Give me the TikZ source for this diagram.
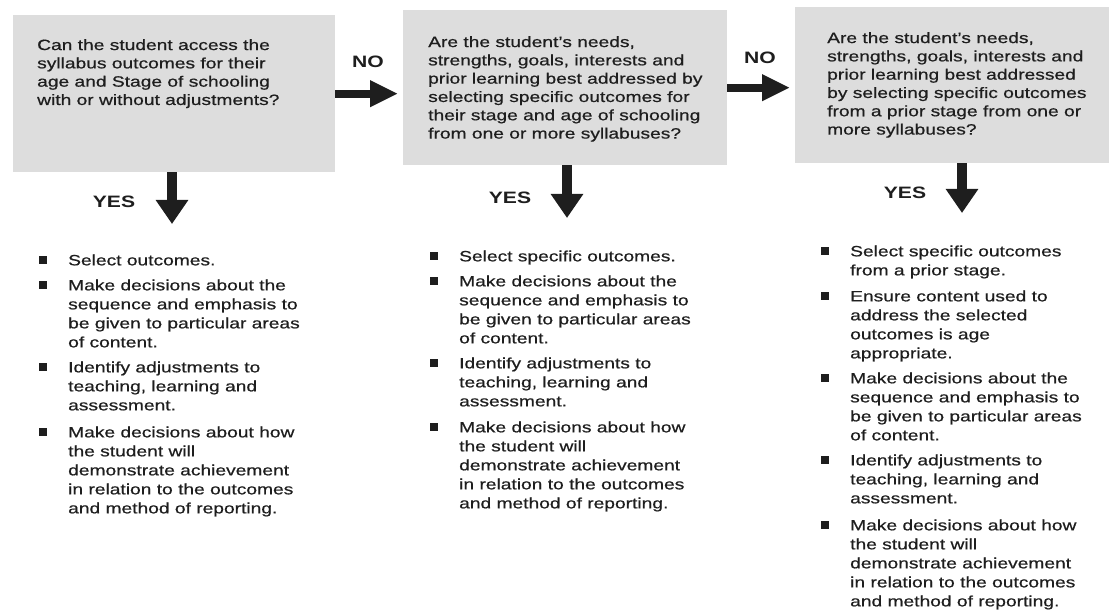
\documentclass[tikz,border=0pt]{standalone}
\usepackage{fontspec}
\setmainfont{Liberation Sans}[FakeStretch=1.28]
\newfontfamily\bodyfont{Liberation Sans}[FakeStretch=1.28,FakeBold=0.6]
\usetikzlibrary{arrows.meta,calc}
\definecolor{boxgray}{RGB}{221,221,221}
\definecolor{ink}{RGB}{30,30,30}
\begin{document}
\begin{tikzpicture}[x=1pt,y=-1pt,
  qbox/.style={fill=boxgray, draw=none, inner sep=0pt, anchor=north west},
  qtext/.style={anchor=north west, inner sep=0pt, align=left, text=ink, font=\bodyfont\fontsize{15}{18.3}\selectfont},
  itemtext/.style={anchor=north west, inner sep=0pt, align=left, text=ink, font=\bodyfont\fontsize{15}{19}\selectfont},
  bul/.style={fill=ink, minimum size=7.5pt, inner sep=0pt},
  lab/.style={text=ink, font=\bfseries\fontsize{16.5}{18}\selectfont, inner sep=0pt},
  harrow/.style={draw=ink, line width=8pt, -{Triangle[width=25pt,length=28pt]}, shorten >=5pt},
  varrow/.style={draw=ink, line width=10pt, -{Triangle[width=31pt,length=24pt]}},
]
\useasboundingbox (0,0) rectangle (1113,612);
% question boxes
\node[qbox, minimum width=322pt, minimum height=157pt] (b1) at (13,15) {};
\node[qbox, minimum width=324pt, minimum height=155pt] (b2) at (403,10) {};
\node[qbox, minimum width=314pt, minimum height=156pt] (b3) at (795,7) {};
\node[qtext] (t1) at (37,39) {Can the student access the\\syllabus outcomes for their\\age and Stage of schooling\\with or without adjustments?};
\node[qtext] (t2) at (428,36) {Are the student’s needs,\\strengths, goals, interests and\\prior learning best addressed by\\selecting specific outcomes for\\their stage and age of schooling\\from one or more syllabuses?};
\node[qtext] (t3) at (827,32) {Are the student’s needs,\\strengths, goals, interests and\\prior learning best addressed\\by selecting specific outcomes\\from a prior stage from one or\\more syllabuses?};
% labels
\node[lab] (no1) at (368,62) {NO};
\node[lab] (no2) at (760,58) {NO};
\node[lab] (yes1) at (114,202) {YES};
\node[lab] (yes2) at (510,198) {YES};
\node[lab] (yes3) at (905,193) {YES};
% arrows
\draw[harrow] (b1.east) -- (b1.east -| b2.west);
\draw[harrow] (b2.east) -- (b2.east -| b3.west);
\coordinate (y1) at (172,224);
\coordinate (y2) at (567,218);
\coordinate (y3) at (962,213);
\draw[varrow] (b1.south -| y1) -- (y1);
\draw[varrow] (b2.south -| y2) -- (y2);
\draw[varrow] (b3.south -| y3) -- (y3);
% column 1
\node[itemtext] (i11) at (68,254.3) {Select outcomes.};
\node[itemtext] (i12) at (68,279.3) {Make decisions about the\\sequence and emphasis to\\be given to particular areas\\of content.};
\node[itemtext] (i13) at (68,361.3) {Identify adjustments to\\teaching, learning and\\assessment.};
\node[itemtext] (i14) at (68,426.3) {Make decisions about how\\the student will\\demonstrate achievement\\in relation to the outcomes\\and method of reporting.};
% column 2
\node[itemtext] (i21) at (459,250.3) {Select specific outcomes.};
\node[itemtext] (i22) at (459,275.3) {Make decisions about the\\sequence and emphasis to\\be given to particular areas\\of content.};
\node[itemtext] (i23) at (459,357.3) {Identify adjustments to\\teaching, learning and\\assessment.};
\node[itemtext] (i24) at (459,421.3) {Make decisions about how\\the student will\\demonstrate achievement\\in relation to the outcomes\\and method of reporting.};
% column 3
\node[itemtext] (i31) at (850,245.3) {Select specific outcomes\\from a prior stage.};
\node[itemtext] (i32) at (850,290.3) {Ensure content used to\\address the selected\\outcomes is age\\appropriate.};
\node[itemtext] (i33) at (850,372.3) {Make decisions about the\\sequence and emphasis to\\be given to particular areas\\of content.};
\node[itemtext] (i34) at (850,454.3) {Identify adjustments to\\teaching, learning and\\assessment.};
\node[itemtext] (i35) at (850,519.3) {Make decisions about how\\the student will\\demonstrate achievement\\in relation to the outcomes\\and method of reporting.};
% bullets
\foreach \n in {i11,i12,i13,i14,i21,i22,i23,i24,i31,i32,i33,i34,i35}
  \node[bul] (k\n) at ($(\n.north west)+(-25,5.5)$) {};
\end{tikzpicture}
\end{document}
